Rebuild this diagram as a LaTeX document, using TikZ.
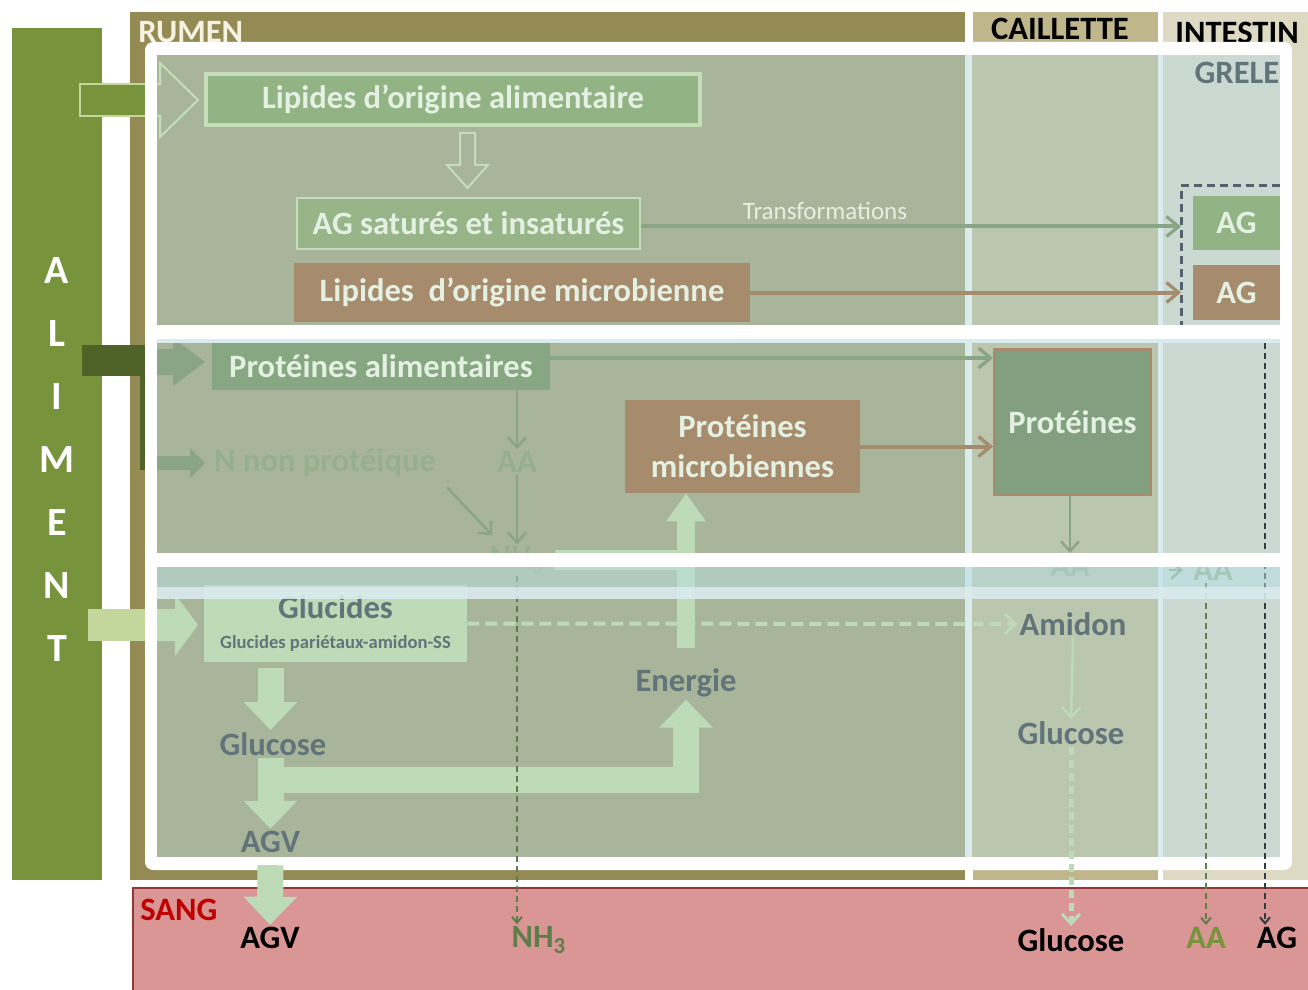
\documentclass[tikz,border=0pt]{standalone}
\usepackage{fontspec}
\setmainfont{Carlito}
\usetikzlibrary{arrows.meta,positioning}

% couleurs
\definecolor{aliment}{RGB}{119,147,60}
\definecolor{alimdark}{RGB}{79,98,40}
\definecolor{alimpale}{RGB}{195,214,155}
\definecolor{rumen}{RGB}{148,138,84}
\definecolor{caillette}{RGB}{192,182,140}
\definecolor{intestin}{RGB}{221,217,195}
\definecolor{sang}{RGB}{217,150,148}
\definecolor{sangbord}{RGB}{148,54,52}
\definecolor{sangtxt}{RGB}{192,0,0}
\definecolor{creme}{RGB}{245,242,225}
\definecolor{fondrum}{RGB}{169,181,154}
\definecolor{fondcai}{RGB}{186,198,173}
\definecolor{fondint}{RGB}{202,218,210}
\definecolor{bleupale}{RGB}{218,235,238}
\definecolor{bleuvert}{RGB}{183,223,230}
\definecolor{vertlip}{RGB}{146,179,132}
\definecolor{vertclair}{RGB}{195,222,184}
\definecolor{vertag}{RGB}{151,181,137}
\definecolor{vertprot}{RGB}{135,166,130}
\definecolor{vertfonce}{RGB}{130,160,127}
\definecolor{brun}{RGB}{166,139,108}
\definecolor{pale}{RGB}{190,219,184}
\definecolor{txtpale}{RGB}{228,240,226}
\definecolor{ardoise}{RGB}{96,116,122}
\definecolor{faible}{RGB}{150,176,142}
\definecolor{fleche}{RGB}{138,165,133}
\definecolor{pointille}{RGB}{85,96,110}
\definecolor{vertaa}{RGB}{95,125,75}

\begin{document}
\begin{tikzpicture}[x=0.5pt,y=-0.5pt,
	titre/.style={inner sep=1pt,font=\bfseries\fontsize{16.3}{19}\selectfont},
	boite/.style={rectangle,inner sep=0pt,text=txtpale,align=center,font=\bfseries\fontsize{16.3}{20}\selectfont},
	fin/.style={draw=fleche,line width=2pt,-{Straight Barb[length=6pt,width=10pt,line width=1.6pt]}},
	fine/.style={draw=fleche,line width=1.2pt,-{Straight Barb[length=5pt,width=9pt,line width=1.2pt]}},
	gros/.style={draw=pale,line width=13pt,line join=miter,-{Triangle[length=14pt,width=26pt]}},
	tirets/.style={line width=1pt,dash pattern=on 3pt off 2pt,-{Straight Barb[length=3pt,width=5pt,line width=1pt]}}]
	\useasboundingbox (0,0) rectangle (1308,990);

	% Zones
	\fill[aliment] (12,28) rectangle (102,880);
	\fill[rumen] (130,12) rectangle (965,880);
	\fill[caillette] (973,12) rectangle (1158,880);
	\fill[intestin] (1163,12) rectangle (1308,880);
	\filldraw[fill=sang,draw=sangbord,line width=1pt] (133,888) rectangle (1312,995);

	\node[titre,text=creme,anchor=west] (lrumen) at (136,32) {RUMEN};
	\node[titre] (lcaillette) at (1060,29) {CAILLETTE};
	\node[titre,anchor=west] (lintestin) at (1173,33) {INTESTIN};
	\foreach \l [count=\i] in {A,L,I,M,E,N,T}
		\node[titre,text=white,font=\bfseries\fontsize{20}{22}\selectfont] (alim\i) at (57,{271+(\i-1)*63}) {\l};

	% Sang
	\node[titre,text=sangtxt,anchor=west] (lsang) at (138,910) {SANG};
	\node[titre] (sagv) at (270,938) {AGV};
	\node[titre,text=vertaa] (snh3) at (539,940) {NH\textsubscript{3}};
	\node[titre] (sglucose) at (1071,940) {Glucose};
	\node[titre,text=aliment] (saa) at (1206,938) {AA};
	\node[titre] (sag) at (1277,938) {AG};

	% Entrees depuis l'aliment
	\filldraw[fill=aliment,draw=alimpale,line width=1pt] (80,84) rectangle (150,116);
	\fill[alimdark] (82,345) rectangle (145,376);
	\fill[alimdark] (140,345) rectangle (145,470);
	\fill[alimpale] (88,609) rectangle (150,641);

	% Cadre blanc et colonnes
	\fill[white,rounded corners=4pt] (145,42) rectangle (1292,870);
	\fill[bleupale] (157,55) rectangle (1280,857);
	\fill[fondrum] (157,55) rectangle (965,857);
	\fill[fondcai] (972,55) rectangle (1158,857);
	\fill[fondint] (1163,55) rectangle (1280,857);

	% Lipides
	\draw[vertclair,line width=1pt,fill=fondrum] (157,84) -- (160,84) -- (160,63) -- (198,100) -- (160,137) -- (160,116) -- (157,116);
	\node[boite,fill=vertlip,draw=vertclair,line width=2pt,minimum width=247pt,minimum height=25.5pt] (lipal) at (453,99.5) {Lipides d’origine alimentaire};
	\draw[vertclair,line width=1pt] (460,133) -- (475,133) -- (475,165) -- (488,165) -- (467.5,188) -- (447,165) -- (460,165) -- cycle;
	\node[boite,fill=vertag,draw=vertclair,line width=1pt,minimum width=171.5pt,minimum height=25.5pt] (agsat) at (468.5,223.5) {AG saturés et insaturés};
	\node[boite,fill=brun,minimum width=228pt,minimum height=29.5pt] (lipmic) at (522,292.5) {Lipides\ \ d’origine microbienne};
	\coordinate (cadreag) at (1181,186);
	\draw[pointille,line width=1.5pt,dash pattern=on 4pt off 2.5pt] (1280,186) -- (cadreag) -- (1181,326);
	\node[boite,fill=vertlip,minimum width=43.5pt,minimum height=27pt] (agint1) at (1236.5,223) {AG};
	\node[boite,fill=brun,minimum width=43.5pt,minimum height=27.5pt] (agint2) at (1236.5,292.5) {AG};
	\node[titre,text=ardoise] (lgrele) at (1237,73) {GRELE};
	\node[font=\fontsize{12.5}{14}\selectfont,text=txtpale,inner sep=0pt] (ltrans) at (825,211) {Transformations};
	\draw[fin] ([yshift=-1.5pt]agsat.east) -- ([yshift=-1.5pt]agsat.east -| cadreag);
	\draw[fin,draw=brun] (lipmic.east) -- (lipmic.east -| cadreag);

	% Proteines
	\fill[fleche] (157,349) -- (173,349) -- (173,338) -- (205,362) -- (173,386) -- (173,375) -- (157,375) -- cycle;
	\fill[fleche] (157,456) -- (190,456) -- (190,448) -- (205,463) -- (190,478) -- (190,470) -- (157,470) -- cycle;
	\node[boite,fill=vertprot,minimum width=169pt,minimum height=24pt] (protal) at (381,366) {Protéines alimentaires};
	\node[titre,text=faible] (nnp) at (325,463) {N non protéique};
	\node[titre,text=faible] (aa1) at (517,462) {AA};
	\node[titre,text=faible] (nh3) at (517,560) {NH\textsubscript{3}};
	\node[boite,fill=brun,minimum width=117.5pt,minimum height=46.5pt] (protmic) at (742.5,446.5) {Protéines\\microbiennes};
	\node[boite,fill=vertfonce,draw=brun,line width=1.5pt,minimum width=78pt,minimum height=72.5pt] (prot) at (1072.5,422) {Protéines};
	\node[titre,text=faible] (aa2) at (1070,566) {AA};
	\node[titre,text=faible] (aa3) at (1213,570) {AA};
	\draw[fin] ([yshift=4pt]protal.east) -- ([yshift=4pt]protal.east -| prot.west);
	\draw[fin,draw=brun] (protmic.east) -- (protmic.east -| prot.west);
	\draw[fine] (aa1.north |- protal.south) -- (aa1.north);
	\draw[fine] (aa1.south) -- (nh3.north);
	\draw[fine] ([xshift=4.5pt,yshift=-4pt]nnp.south east) -- ([xshift=2.5pt,yshift=4.5pt]nh3.north west);
	\draw[fine] (aa2.north |- prot.south) -- (aa2.north);
	\draw[fine] ([xshift=-11pt]aa3.west) -- ([xshift=-4pt]aa3.west);

	% Glucides
	\fill[pale] (157,609) -- (175,609) -- (175,594) -- (198,625) -- (175,656) -- (175,641) -- (157,641) -- cycle;
	\node[boite,fill=pale,text=ardoise,minimum width=131.5pt,minimum height=38.5pt] (glucides) at (335.5,623.5) {Glucides\\[-5pt]{\fontsize{9.3}{11}\selectfont Glucides pariétaux-amidon-SS}};
	\node[titre,text=ardoise] (glucose1) at (273,744) {Glucose};
	\node[titre,text=ardoise] (agv1) at (270.5,842) {AGV};
	\node[titre,text=ardoise] (energie) at (686,683) {Energie};
	\node[titre,text=ardoise] (amidon) at (1073,624) {Amidon};
	\node[titre,text=ardoise] (glucose2) at (1071,733) {Glucose};
	\coordinate (fourche) at (271,780);
	\draw[gros] ([yshift=-3pt]agv1.north |- glucides.south) -- (agv1.north |- glucose1.north);
	\draw[gros] (agv1.north |- glucose1.south) -- (agv1.north);
	\draw[gros] (agv1.north |- fourche) -| (energie.south);
	\draw[draw=pale,line width=10pt] ([xshift=4pt]nh3.east) -- (nh3.east -| energie.north);
	\draw[gros,line width=9pt,-{Triangle[length=14pt,width=19pt]}] ([yshift=9pt]energie.north) -- (energie.north |- protmic.south);
	\draw[draw=pale,line width=2pt,dash pattern=on 6pt off 3pt,-{Straight Barb[length=5pt,width=10pt,line width=1.5pt]}] (glucides.east) -- (amidon.west);
	\draw[fine,draw=pale] (amidon.south) -- (glucose2.north);

	% Vers le sang
	\draw[gros,shorten <=5pt] (agv1.south) -- (sagv.north);
	\draw[draw=pale,line width=2.5pt,dash pattern=on 4pt off 2.5pt,-{Straight Barb[length=5pt,width=9pt,line width=1.5pt]}] (glucose2.south) -- (sglucose.north);
	\draw[tirets,draw=vertaa] (nh3.south) -- (nh3.south |- snh3.north);
	\draw[tirets,draw=vertaa] (saa.north |- aa3.south) -- (saa.north);
	\coordinate (agdash) at (1265,343);
	\draw[tirets,draw=pointille!60!black] (agdash) -- (agdash |- sag.north);

	% Bandes de separation
	\fill[white] (157,325) rectangle (1280,339);
	\fill[bleupale] (157,339) rectangle (1280,343);
	\fill[white] (157,553) rectangle (1280,567);
	\fill[bleuvert,opacity=.5] (157,567) rectangle (1280,587);
	\fill[bleupale,opacity=.9] (157,587) rectangle (1280,599);
\end{tikzpicture}
\end{document}
